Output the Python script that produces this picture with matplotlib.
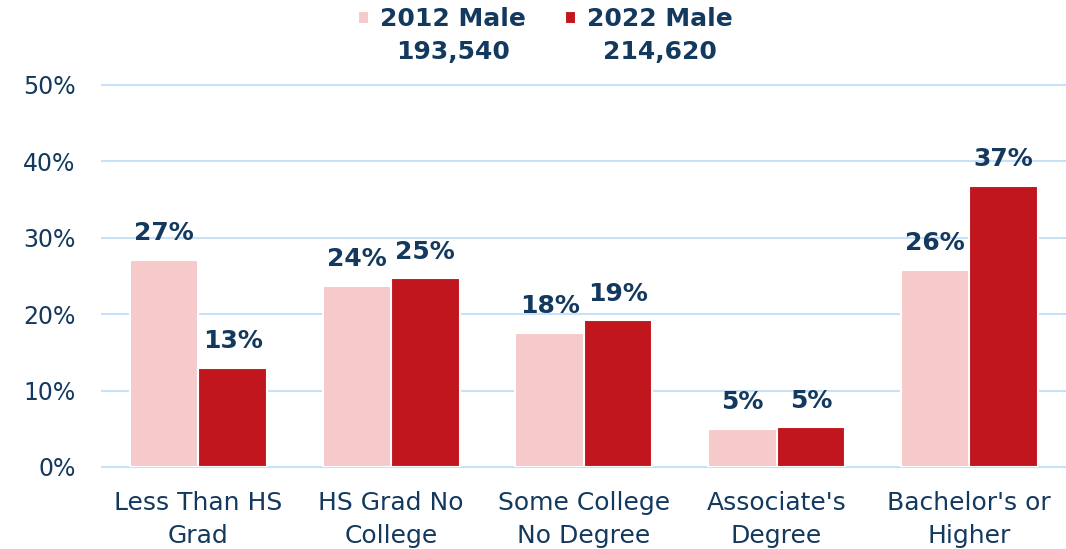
import numpy as np
import matplotlib
matplotlib.use('Agg')
import matplotlib.pyplot as plt

# education level shares, male population
categories = ['Less Than HS\nGrad', 'HS Grad No\nCollege', 'Some College\nNo Degree',
              "Associate's\nDegree", "Bachelor's or\nHigher"]
male_2012 = [27.1, 23.7, 17.6, 5.0, 25.8]
male_2022 = [13.0, 24.7, 19.2, 5.2, 36.8]
labels_2012 = ['27%', '24%', '18%', '5%', '26%']
labels_2022 = ['13%', '25%', '19%', '5%', '37%']
series_names = ['2012 Male', '2022 Male']
series_totals = ['193,540', '214,620']

pink = '#F6C9CA'
red = '#C1161E'
navy = '#14395F'
grid_blue = '#C8E1F7'

plt.rcParams['font.family'] = ['DejaVu Sans']

fig = plt.figure(figsize=(10.66, 5.49), dpi=100)
ax = fig.add_axes([0.0957, 0.1494, 0.904, 0.6958])

x = np.arange(len(categories))
w = 0.355
b1 = ax.bar(x - w / 2, male_2012, w, color=pink, edgecolor='white', linewidth=1.5, zorder=3,
            label=series_names[0])
b2 = ax.bar(x + w / 2, male_2022, w, color=red, edgecolor='white', linewidth=1.5, zorder=3,
            label=series_names[1])

for bars, labs in [(b1, labels_2012), (b2, labels_2022)]:
    for rect, lab in zip(bars, labs):
        ax.annotate(lab, (rect.get_x() + rect.get_width() / 2, rect.get_height()),
                    xytext=(0, 14), textcoords='offset points', ha='center', va='baseline',
                    fontsize=18, fontweight='bold', color=navy, zorder=4)

ax.set_xlim(-0.5, len(categories) - 0.5)
ax.set_ylim(0, 50)
ax.set_yticks(np.arange(0, 51, 10))
ax.set_yticklabels([f'{v}%' for v in range(0, 51, 10)])
ax.set_xticks(x)
ax.set_xticklabels(categories, linespacing=1.5)
ax.tick_params(axis='both', length=0, labelcolor=navy)
ax.tick_params(axis='y', pad=19, labelsize=17)
ax.tick_params(axis='x', pad=17, labelsize=18)
ax.yaxis.grid(True, color=grid_blue, linewidth=1.5, zorder=0)
for gl in ax.get_ygridlines():
    gl.set_clip_on(False)
for s in ax.spines.values():
    s.set_visible(False)

leg = ax.legend(loc='center', bbox_to_anchor=(0.46, 1.172), ncol=2, frameon=False,
                prop={'weight': 'bold', 'size': 18}, handlelength=0.45, handleheight=0.45,
                handletextpad=0.45, columnspacing=1.55, borderpad=0)
for t in leg.get_texts():
    t.set_color(navy)

fig.canvas.draw()
for t, total in zip(leg.get_texts(), series_totals):
    bb = t.get_window_extent()
    cx = (bb.x0 + bb.x1) / 2
    fig.text(cx / fig.bbox.width, (bb.y0 - 9) / fig.bbox.height, total, ha='center', va='top',
             fontsize=18, fontweight='bold', color=navy)

fig.savefig('out.png', dpi=100)
